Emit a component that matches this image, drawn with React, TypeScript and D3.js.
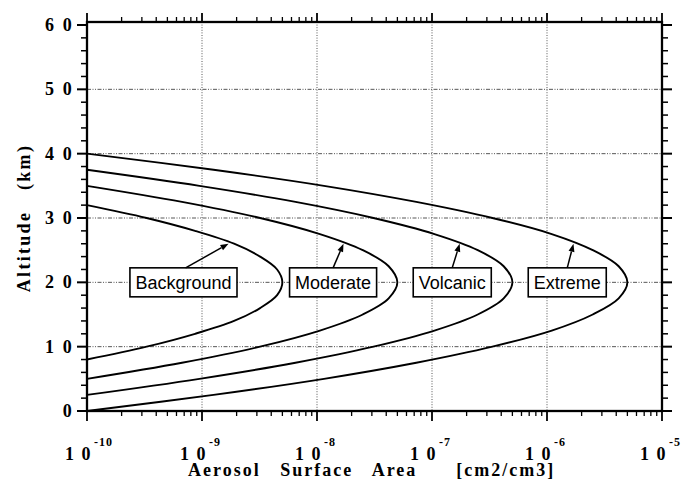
import React from 'react';
import * as d3 from 'd3';

// Data (altitude km, aerosol surface area cm2/cm3)
const seriesNames = ['Background', 'Moderate', 'Volcanic', 'Extreme'];

const backgroundAlt = [8, 10, 12, 14, 16, 18, 20, 22, 24, 26, 28, 30, 32];
const backgroundArea = [1.0e-10, 3.3e-10, 8.7e-10, 1.9e-9, 3.2e-9, 4.5e-9, 5.0e-9, 4.5e-9, 3.2e-9, 1.9e-9, 8.7e-10, 3.3e-10, 1.0e-10];

const moderateAlt = [5, 7.5, 10, 12.5, 15, 17.5, 20, 22.5, 25, 27.5, 30, 32.5, 35];
const moderateArea = [1.0e-10, 6.7e-10, 3.2e-9, 1.06e-8, 2.5e-8, 4.2e-8, 5.0e-8, 4.2e-8, 2.5e-8, 1.06e-8, 3.2e-9, 6.7e-10, 1.0e-10];

const volcanicAlt = [2.5, 5, 7.5, 10, 12.5, 15, 17.5, 20, 22.5, 25, 27.5, 30, 32.5, 35, 37.5];
const volcanicArea = [1.0e-10, 9.5e-10, 6.5e-9, 3.1e-8, 1.05e-7, 2.5e-7, 4.2e-7, 5.0e-7, 4.2e-7, 2.5e-7, 1.05e-7, 3.1e-8, 6.5e-9, 9.5e-10, 1.0e-10];

const extremeAlt = [0, 2.5, 5, 7.5, 10, 12.5, 15, 17.5, 20, 22.5, 25, 27.5, 30, 32.5, 35, 37.5, 40];
const extremeArea = [1.0e-10, 1.26e-9, 1.15e-8, 7.3e-8, 3.35e-7, 1.1e-6, 2.5e-6, 4.2e-6, 5.0e-6, 4.2e-6, 2.5e-6, 1.1e-6, 3.35e-7, 7.3e-8, 1.15e-8, 1.26e-9, 1.0e-10];

// Label annotations (data coordinates)
const labelCenterArea = [6.9e-10, 1.38e-8, 1.5e-7, 1.5e-6];
const labelAlt = [20, 20, 20, 20];
const arrowStartArea = [7.2e-10, 1.38e-8, 1.5e-7, 1.5e-6];
const arrowTipArea = [1.7e-9, 1.7e-8, 1.74e-7, 1.7e-6];
const arrowTipAlt = [26, 26, 26, 26];

const xTickPowers = [-10, -9, -8, -7, -6, -5];
const yTicks = [0, 10, 20, 30, 40, 50, 60];

const W = 698;
const H = 479;
const M = { left: 87, right: 662, top: 25, bottom: 411 };

const serif = '"Liberation Serif", "Times New Roman", serif';
const sans = '"Liberation Sans", Arial, sans-serif';

function measure(text: string, font: string): number {
  const c = document.createElement('canvas');
  const ctx = c.getContext('2d');
  if (!ctx) return text.length * 9;
  ctx.font = font;
  return ctx.measureText(text).width;
}

export default function App() {
  const x = d3.scaleLog().domain([1e-10, 1e-5]).range([M.left, M.right]);
  const y = d3.scaleLinear().domain([0, 60]).range([M.bottom, M.top]);

  const series = [
    { alt: backgroundAlt, area: backgroundArea },
    { alt: moderateAlt, area: moderateArea },
    { alt: volcanicAlt, area: volcanicArea },
    { alt: extremeAlt, area: extremeArea },
  ];

  const line = d3
    .line<[number, number]>()
    .x((d) => x(d[1]))
    .y((d) => y(d[0]))
    .curve(d3.curveCatmullRom.alpha(0.5));

  const minorX: number[] = [];
  for (let p = -10; p < -5; p++) {
    for (let m = 2; m <= 9; m++) minorX.push(m * Math.pow(10, p));
  }
  const minorY = d3.range(0, 61, 2).filter((v) => v % 10 !== 0);

  const labelFont = `18px ${sans}`;
  const top = M.top - 3;

  return (
    <svg width={W} height={H} style={{ display: 'block', position: 'absolute', left: 0, top: 0, background: '#fff' }}>
      {/* grid */}
      {xTickPowers.slice(1, -1).map((p) => (
        <line key={'gx' + p} x1={x(Math.pow(10, p))} x2={x(Math.pow(10, p))} y1={top} y2={M.bottom}
          stroke="#444" strokeWidth={0.9} strokeDasharray="1,1.6" />
      ))}
      {yTicks.slice(1, -1).map((v) => (
        <line key={'gy' + v} x1={M.left} x2={M.right} y1={y(v)} y2={y(v)}
          stroke="#444" strokeWidth={0.9} strokeDasharray="4,1.5,1,1.5,1,1.5" />
      ))}

      {/* curves */}
      {series.map((s, i) => (
        <path key={seriesNames[i]} d={line(s.alt.map((a, j) => [a, s.area[j]] as [number, number])) || ''}
          fill="none" stroke="#000" strokeWidth={1.9} />
      ))}

      {/* labels */}
      {seriesNames.map((name, i) => {
        const tw = measure(name, labelFont);
        const cx = x(labelCenterArea[i]);
        const cy = y(labelAlt[i]);
        const bw = tw + 11;
        const bh = 29;
        const sx = x(arrowStartArea[i]);
        const sy = cy - bh / 2;
        const tx = x(arrowTipArea[i]);
        const ty = y(arrowTipAlt[i]);
        const ang = Math.atan2(ty - sy, tx - sx);
        const hl = 8;
        const hw = 3;
        const bx = tx - hl * Math.cos(ang);
        const by = ty - hl * Math.sin(ang);
        const px = -Math.sin(ang) * hw;
        const py = Math.cos(ang) * hw;
        return (
          <g key={'lab' + name}>
            <rect x={cx - bw / 2} y={cy - bh / 2} width={bw} height={bh} fill="#fff" stroke="#000" strokeWidth={1.6} />
            <text x={cx} y={cy + 6.5} textAnchor="middle" fontFamily={sans} fontSize={18} fill="#000">{name}</text>
            <line x1={sx} y1={sy} x2={bx} y2={by} stroke="#000" strokeWidth={1.5} />
            <polygon points={`${tx},${ty} ${bx + px},${by + py} ${bx - px},${by - py}`} fill="#000" />
          </g>
        );
      })}

      {/* frame */}
      <rect x={M.left} y={top} width={M.right - M.left} height={M.bottom - top}
        fill="none" stroke="#000" strokeWidth={2.3} />

      {/* y ticks left and right */}
      {yTicks.map((v) => (
        <g key={'yt' + v}>
          <line x1={M.left - 10} x2={M.left} y1={y(v)} y2={y(v)} stroke="#000" strokeWidth={2} />
          <line x1={M.right} x2={M.right + 10} y1={y(v)} y2={y(v)} stroke="#000" strokeWidth={2} />
          <text x={74} y={y(v) + 6} textAnchor="end" fontFamily={serif} fontWeight="bold" fontSize={18}
            letterSpacing={2.2} fill="#000">
            {String(v).split('').join(' ')}
          </text>
        </g>
      ))}
      {minorY.map((v) => (
        <g key={'ym' + v}>
          <line x1={M.left - 6} x2={M.left} y1={y(v)} y2={y(v)} stroke="#000" strokeWidth={1.5} />
          <line x1={M.right} x2={M.right + 6} y1={y(v)} y2={y(v)} stroke="#000" strokeWidth={1.5} />
        </g>
      ))}

      {/* x ticks bottom and top */}
      {xTickPowers.map((p) => {
        const xv = x(Math.pow(10, p));
        return (
          <g key={'xt' + p}>
            <line x1={xv} x2={xv} y1={M.bottom} y2={M.bottom + 10} stroke="#000" strokeWidth={1.8} />
            <line x1={xv} x2={xv} y1={top} y2={top - 9} stroke="#000" strokeWidth={1.8} />
            <text x={xv + 5} y={460} textAnchor="end" fontFamily={serif} fontWeight="bold" fontSize={18}
              letterSpacing={1.5} fill="#000">1 0</text>
            <text x={xv + 7} y={446} textAnchor="start" fontFamily={serif} fontWeight="bold" fontSize={12}
              letterSpacing={1} fill="#000">{'-' + Math.abs(p)}</text>
          </g>
        );
      })}
      {minorX.map((v, i) => {
        const xv = x(v);
        return (
          <g key={'xm' + i}>
            <line x1={xv} x2={xv} y1={M.bottom} y2={M.bottom + 5} stroke="#000" strokeWidth={1.3} />
            <line x1={xv} x2={xv} y1={top} y2={top - 5} stroke="#000" strokeWidth={1.3} />
          </g>
        );
      })}

      {/* axis titles */}
      <text transform={`translate(30,218) rotate(-90)`} textAnchor="middle" fontFamily={serif} fontWeight="bold"
        fontSize={18} letterSpacing={2.3} wordSpacing={14} fill="#000">Altitude (km)</text>
      <text x={188} y={476} textAnchor="start" fontFamily={serif} fontWeight="bold" fontSize={18}
        letterSpacing={2} wordSpacing={13} fill="#000" style={{ whiteSpace: 'pre' }}>Aerosol Surface Area  [cm2/cm3]</text>
    </svg>
  );
}
